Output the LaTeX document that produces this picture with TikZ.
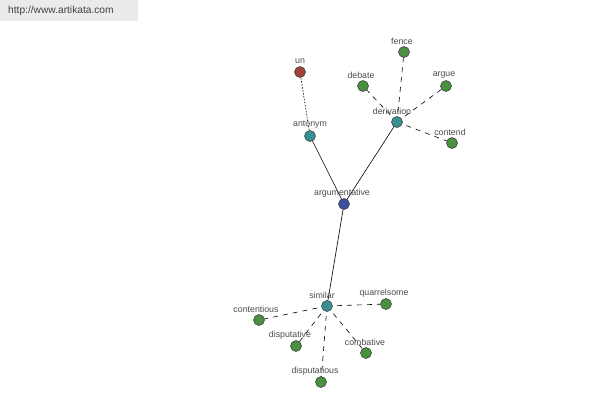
\documentclass[tikz,border=0pt]{standalone}
\usepackage{fontspec}
\setmainfont{Liberation Sans}
\begin{document}
\begin{tikzpicture}[x=1pt,y=-1pt,
  vertex/.style={circle,draw=black!80,line width=0.5pt,minimum size=11pt,inner sep=0pt},
  green/.style={vertex,fill=nodegreen},
  teal/.style={vertex,fill=nodeteal},
  blue/.style={vertex,fill=nodeblue},
  red/.style={vertex,fill=nodered},
  lbl/.style={text=black!70,font=\fontsize{8.8}{9}\selectfont,inner sep=0pt},
  solidedge/.style={line width=0.6pt,black},
  dashedge/.style={line width=0.6pt,black,dash pattern=on 5pt off 5pt},
  dotedge/.style={line width=0.6pt,black,dash pattern=on 1.5pt off 1.5pt}]
\definecolor{nodegreen}{HTML}{4A9040}
\definecolor{nodeteal}{HTML}{3A9090}
\definecolor{nodeblue}{HTML}{3D4F9E}
\definecolor{nodered}{HTML}{A0433A}
\useasboundingbox (0,0) rectangle (600,400);
\fill[white] (0,0) rectangle (600,400);
\fill[black!8] (0,0) rectangle (138,21);
\node[text=black!75,font=\fontsize{10.2}{11}\selectfont,anchor=west,inner sep=0pt] (url) at (8,11) {http://www.artikata.com};
% node positions
\coordinate (pArg) at (344,204);
\coordinate (pAnt) at (310,136);
\coordinate (pUn) at (300,72);
\coordinate (pDer) at (397,122);
\coordinate (pFen) at (404,52);
\coordinate (pDeb) at (363,86);
\coordinate (pArgue) at (446,86);
\coordinate (pCon) at (452,143);
\coordinate (pSim) at (327,306);
\coordinate (pQua) at (386,304);
\coordinate (pCtn) at (259,320);
\coordinate (pDpt) at (296,346);
\coordinate (pCmb) at (366,353);
\coordinate (pDps) at (321,382);
% edges
\draw[solidedge] (pArg) -- (pAnt);
\draw[solidedge] (pArg) -- (pDer);
\draw[solidedge] (pArg) -- (pSim);
\draw[dotedge] (pAnt) -- (pUn);
\draw[dashedge] (pDer) -- (pFen);
\draw[dashedge] (pDer) -- (pDeb);
\draw[dashedge] (pDer) -- (pArgue);
\draw[dashedge] (pDer) -- (pCon);
\draw[dashedge] (pSim) -- (pQua);
\draw[dashedge] (pSim) -- (pCtn);
\draw[dashedge] (pSim) -- (pDpt);
\draw[dashedge] (pSim) -- (pCmb);
\draw[dashedge] (pSim) -- (pDps);
% labels
\node[lbl] (lArg) at (342,193) {argumentative};
\node[lbl] (lAnt) at (310,125) {antonym};
\node[lbl] (lUn) at (300,61) {un};
\node[lbl] (lDer) at (392,111) {derivation};
\node[lbl] (lFen) at (402,41) {fence};
\node[lbl] (lDeb) at (361,75) {debate};
\node[lbl] (lArgue) at (444,75) {argue};
\node[lbl] (lCon) at (450,132) {contend};
\node[lbl] (lSim) at (322,295) {similar};
\node[lbl] (lQua) at (384,293) {quarrelsome};
\node[lbl] (lCtn) at (256,309) {contentious};
\node[lbl] (lDpt) at (290,335) {disputative};
\node[lbl] (lCmb) at (365,342) {combative};
\node[lbl] (lDps) at (315,371) {disputatious};
% circles
\node[blue] (arg) at (pArg) {};
\node[teal] (ant) at (pAnt) {};
\node[red] (un) at (pUn) {};
\node[teal] (der) at (pDer) {};
\node[green] (fen) at (pFen) {};
\node[green] (deb) at (pDeb) {};
\node[green] (argue) at (pArgue) {};
\node[green] (con) at (pCon) {};
\node[teal] (sim) at (pSim) {};
\node[green] (qua) at (pQua) {};
\node[green] (ctn) at (pCtn) {};
\node[green] (dpt) at (pDpt) {};
\node[green] (cmb) at (pCmb) {};
\node[green] (dps) at (pDps) {};
\end{tikzpicture}
\end{document}
